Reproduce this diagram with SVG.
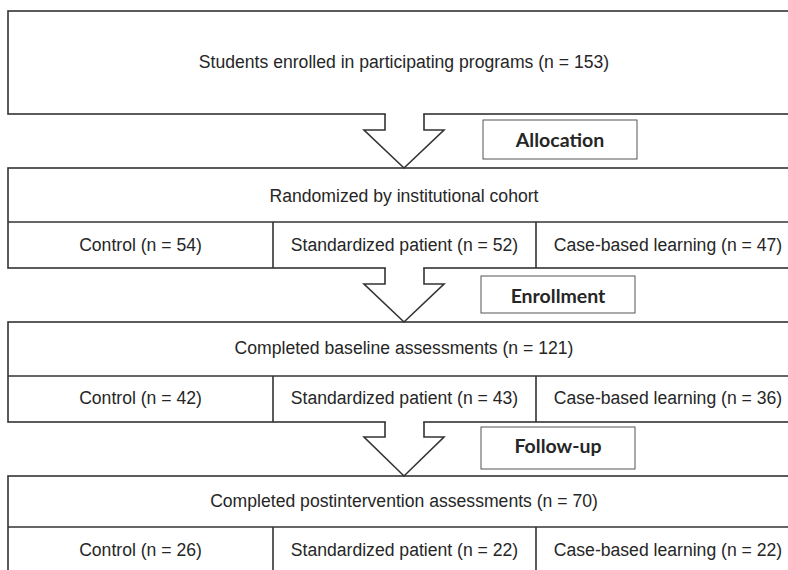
<svg xmlns="http://www.w3.org/2000/svg" width="788" height="570" viewBox="0 0 788 570">
  <style>
    .box { fill: #ffffff; stroke: #333333; stroke-width: 1.6; }
    .line { fill: none; stroke: #333333; stroke-width: 1.6; }
    .txt { font-family: "Liberation Sans", Arial, sans-serif; font-size: 17.6px; fill: #262626; text-anchor: middle; }
    .lbl { fill: #ffffff; stroke: #555555; stroke-width: 1; }
    .lbltxt { font-family: Lato, "Open Sans", sans-serif; font-weight: bold; font-size: 19.5px; fill: #262626; text-anchor: middle; }
    .arrowfill { fill: #ffffff; stroke: none; }
  </style>
  <rect x="0" y="0" width="788" height="570" fill="#ffffff"/>

  <g id="enrolled">
    <rect class="box" x="8" y="11" width="792" height="103"/>
    <text class="txt" x="404" y="68.3">Students enrolled in participating programs (n = 153)</text>
  </g>

  <g id="randomized">
    <rect class="box" x="8" y="168" width="792" height="100"/>
    <line class="line" x1="8" y1="222" x2="800" y2="222"/>
    <line class="line" x1="273" y1="222" x2="273" y2="268"/>
    <line class="line" x1="536" y1="222" x2="536" y2="268"/>
    <text class="txt" x="404" y="201.5">Randomized by institutional cohort</text>
    <text class="txt" x="140.5" y="251">Control (n = 54)</text>
    <text class="txt" x="404.5" y="251">Standardized patient (n = 52)</text>
    <text class="txt" x="668" y="251">Case-based learning (n = 47)</text>
  </g>

  <g id="baseline">
    <rect class="box" x="8" y="322" width="792" height="100"/>
    <line class="line" x1="8" y1="376" x2="800" y2="376"/>
    <line class="line" x1="273" y1="376" x2="273" y2="422"/>
    <line class="line" x1="536" y1="376" x2="536" y2="422"/>
    <text class="txt" x="404" y="354">Completed baseline assessments (n = 121)</text>
    <text class="txt" x="140.5" y="404">Control (n = 42)</text>
    <text class="txt" x="404.5" y="404">Standardized patient (n = 43)</text>
    <text class="txt" x="668" y="404">Case-based learning (n = 36)</text>
  </g>

  <g id="postintervention">
    <rect class="box" x="8" y="476" width="792" height="100"/>
    <line class="line" x1="8" y1="527" x2="800" y2="527"/>
    <line class="line" x1="273" y1="527" x2="273" y2="576"/>
    <line class="line" x1="536" y1="527" x2="536" y2="576"/>
    <text class="txt" x="404" y="506.7">Completed postintervention assessments (n = 70)</text>
    <text class="txt" x="140.5" y="556">Control (n = 26)</text>
    <text class="txt" x="404.5" y="556">Standardized patient (n = 22)</text>
    <text class="txt" x="668" y="556">Case-based learning (n = 22)</text>
  </g>

  <g id="connectors">
    <g id="arrow1">
      <polygon class="arrowfill" points="385.8,112 385.8,130 364,130 404,168 444,130 423.2,130 423.2,112"/>
      <polyline class="line" points="385,114 385,130 364,130 404,168 444,130 424,130 424,114"/>
    </g>
    <g id="arrow2">
      <polygon class="arrowfill" points="385.8,266 385.8,284 364,284 404,322 444,284 423.2,284 423.2,266"/>
      <polyline class="line" points="385,268 385,284 364,284 404,322 444,284 424,284 424,268"/>
    </g>
    <g id="arrow3">
      <polygon class="arrowfill" points="385.8,420 385.8,437 364,437 404,476 444,437 423.2,437 423.2,420"/>
      <polyline class="line" points="385,422 385,437 364,437 404,476 444,437 424,437 424,422"/>
    </g>
  </g>

  <g id="label-allocation">
    <rect class="lbl" x="483" y="120" width="154" height="39"/>
    <text class="lbltxt" x="560" y="146.7">Allocation</text>
  </g>
  <g id="label-enrollment">
    <rect class="lbl" x="481" y="276" width="154" height="37"/>
    <text class="lbltxt" x="558" y="303.3">Enrollment</text>
  </g>
  <g id="label-followup">
    <rect class="lbl" x="481" y="427" width="154" height="42"/>
    <text class="lbltxt" x="558" y="452.7">Follow-up</text>
  </g>
</svg>
